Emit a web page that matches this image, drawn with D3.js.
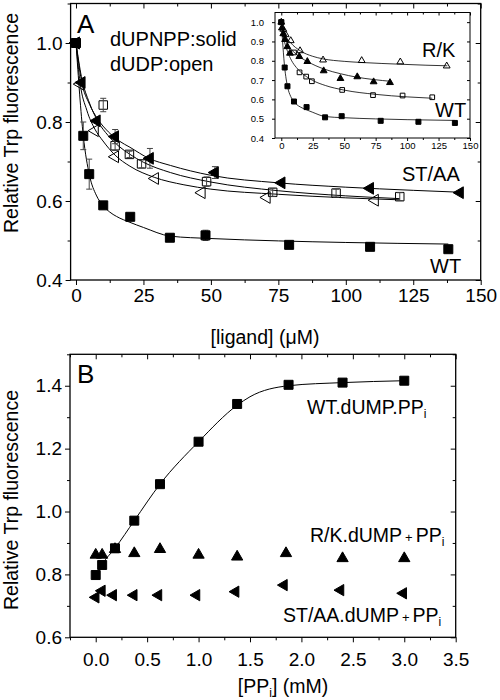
<!DOCTYPE html>
<html><head><meta charset="utf-8">
<script src="https://cdn.jsdelivr.net/npm/d3@7"></script>
<style>
body{margin:0;background:#fff;}
svg{display:block;font-family:"Liberation Sans",Arial,Helvetica,sans-serif;}
</style></head><body>
<svg id="c" width="500" height="700"></svg>
<script>
// ---------------- Panel A (main) data ----------------
const wtSolidX = [0, 2.7, 4.9, 10.1, 20.1, 34.8, 48, 79, 109, 138];
const wtSolidY = [1.0, 0.765, 0.668, 0.589, 0.560, 0.507, 0.513, 0.489, 0.484, 0.478];
const wtSolidErr = [0, 0.035, 0.038, 0, 0, 0, 0.013, 0, 0, 0];

const wtOpenX = [0, 10.1, 14.5, 19.8, 24.3, 48.4, 72.9, 96.4, 120];
const wtOpenY = [1.0, 0.843, 0.740, 0.718, 0.694, 0.649, 0.622, 0.620, 0.611];
const wtOpenErr = [0, 0.017, 0.012, 0.008, 0.010, 0.012, 0.010, 0.010, 0.010];

const stSolidX = [0, 2.1, 7.7, 14.5, 27.4, 51.5, 76.2, 109, 142.3];
const stSolidY = [1.0, 0.900, 0.803, 0.763, 0.708, 0.672, 0.646, 0.632, 0.621];
const stSolidErr = [0, 0, 0, 0.018, 0.025, 0.015, 0, 0, 0];

const stOpenX = [0, 1.5, 7.0, 14.5, 29.3, 46.6, 70.7, 110.8];
const stOpenY = [1.0, 0.896, 0.778, 0.712, 0.657, 0.621, 0.609, 0.602];

// fitted curves
const fitWtSolidX = [0, 2.7, 5, 7.5, 10, 12.5, 15, 20, 25, 35, 50, 75, 100, 138];
const fitWtSolidY = [1.0, 0.765, 0.665, 0.615, 0.589, 0.572, 0.561, 0.546, 0.533, 0.511, 0.505, 0.499, 0.495, 0.491];
const fitStSolidX = [0, 2, 5, 8, 12, 16, 20, 27, 35, 50, 75, 100, 125, 143];
const fitStSolidY = [1.0, 0.905, 0.845, 0.808, 0.775, 0.752, 0.736, 0.708, 0.690, 0.665, 0.646, 0.635, 0.627, 0.622];
const fitWtOpenX = [0, 2, 5, 8, 12, 16, 20, 25, 35, 50, 75, 100, 120];
const fitWtOpenY = [1.0, 0.915, 0.848, 0.803, 0.765, 0.738, 0.718, 0.698, 0.672, 0.648, 0.626, 0.613, 0.606];
const fitStOpenX = [0, 1.5, 4, 7, 10, 14.5, 20, 29, 40, 50, 75, 100, 120];
const fitStOpenY = [1.0, 0.900, 0.830, 0.782, 0.752, 0.716, 0.688, 0.660, 0.641, 0.630, 0.617, 0.608, 0.603];

// ---------------- Inset data ----------------
const rkOpenX = [0, 1.6, 3.5, 7.5, 14.9, 33.2, 63.9, 94.6, 131.5];
const rkOpenY = [1.0, 0.963, 0.935, 0.904, 0.852, 0.804, 0.801, 0.794, 0.773];
const rkSolidX = [0.5, 1.6, 3.0, 4.8, 6.9, 14.3, 20.7, 33.7, 47.0, 60.4, 73.4, 86.4];
const rkSolidY = [0.97, 0.94, 0.91, 0.873, 0.839, 0.822, 0.796, 0.748, 0.708, 0.717, 0.691, 0.687];
const fitRkOpenX = [0, 3, 7.5, 15, 25, 33, 50, 64, 80, 95, 115, 132];
const fitRkOpenY = [1.0, 0.935, 0.893, 0.852, 0.823, 0.810, 0.797, 0.791, 0.786, 0.782, 0.777, 0.774];
const fitRkSolidX = [0, 2, 5, 10, 15, 21, 34, 47, 60, 73, 88];
const fitRkSolidY = [1.0, 0.935, 0.885, 0.845, 0.818, 0.795, 0.757, 0.733, 0.715, 0.703, 0.693];

// ---------------- Panel B data ----------------
const wtBX = [0, 0.0625, 0.1875, 0.375, 0.625, 1.0, 1.375, 1.875, 2.4, 3.0];
const wtBY = [0.798, 0.830, 0.883, 0.971, 1.087, 1.222, 1.342, 1.403, 1.410, 1.416];
const rkBX = [0, 0.0625, 0.1875, 0.375, 0.625, 1.0, 1.375, 1.85, 2.4, 3.0];
const rkBY = [0.862, 0.862, 0.880, 0.867, 0.880, 0.862, 0.856, 0.867, 0.851, 0.851];
const stBX = [0, 0.06, 0.17, 0.37, 0.61, 0.98, 1.36, 1.83, 2.38, 2.99];
const stBY = [0.727, 0.748, 0.734, 0.734, 0.734, 0.734, 0.745, 0.766, 0.750, 0.740];
const fitBX = [0.04, 0.0625, 0.1875, 0.375, 0.625, 1.0, 1.375, 1.5, 1.875, 2.4, 3.0];
const fitBY = [0.815, 0.830, 0.883, 0.971, 1.087, 1.222, 1.338, 1.365, 1.400, 1.410, 1.416];

// ---------------- tick values ----------------
const xTicksA = [0, 25, 50, 75, 100, 125, 150];
const xMinorA = [12.5, 37.5, 62.5, 87.5, 112.5, 137.5];
const yTicksA = [0.4, 0.6, 0.8, 1.0];
const yMinorA = [0.5, 0.7, 0.9, 1.1];
const xTicksI = [0, 25, 50, 75, 100, 125, 150];
const xMinorI = [12.5, 37.5, 62.5, 87.5, 112.5, 137.5];
const yTicksI = [0.4, 0.5, 0.6, 0.7, 0.8, 0.9, 1.0];
const xTicksB = [0.0, 0.5, 1.0, 1.5, 2.0, 2.5, 3.0, 3.5];
const xMinorB = [-0.25, 0.25, 0.75, 1.25, 1.75, 2.25, 2.75, 3.25];
const yTicksB = [0.6, 0.8, 1.0, 1.2, 1.4];
const yMinorB = [0.7, 0.9, 1.1, 1.3, 1.5];

const FONT = '"Liberation Sans", Arial, Helvetica, sans-serif';
const svg = d3.select("#c");

const xA = d3.scaleLinear().domain([-2, 150]).range([70.6, 480.7]);
const yA = d3.scaleLinear().domain([0.4, 1.1]).range([280, 3.5]);
const xI = d3.scaleLinear().domain([-5, 150]).range([275, 470]);
const yI = d3.scaleLinear().domain([0.4, 1.05]).range([138, 12.5]);
const xB = d3.scaleLinear().domain([-0.25, 3.5]).range([70, 455.7]);
const yB = d3.scaleLinear().domain([0.6, 1.5]).range([637.3, 354.3]);

function styleAxis(sel, fs) {
  sel.select(".domain").remove();
  sel.selectAll("line").attr("stroke", "#000").attr("stroke-width", 1);
  sel.selectAll("text").attr("font-size", fs).attr("font-family", FONT).attr("fill", "#000");
}

function axes(g, x, y, c) {
  const [x0, x1] = x.range(), [y0, y1] = y.range();
  const fmtX = c.xFmt, fmtY = d3.format(".1f");
  g.append("g").attr("transform", `translate(0,${y0})`)
    .call(d3.axisBottom(x).tickValues(c.xMajor).tickSize(c.tl).tickPadding(c.xPad).tickFormat(fmtX))
    .call(s => styleAxis(s, c.fs));
  if (c.xMinor) g.append("g").attr("transform", `translate(0,${y0})`)
    .call(d3.axisBottom(x).tickValues(c.xMinor).tickSize(c.tm).tickFormat(""))
    .call(s => styleAxis(s, c.fs));
  g.append("g").attr("transform", `translate(0,${y1})`)
    .call(d3.axisTop(x).tickValues(c.xMajor).tickSize(-c.tl).tickFormat(""))
    .call(s => styleAxis(s, c.fs));
  if (c.xMinor) g.append("g").attr("transform", `translate(0,${y1})`)
    .call(d3.axisTop(x).tickValues(c.xMinor).tickSize(-c.tm).tickFormat(""))
    .call(s => styleAxis(s, c.fs));
  g.append("g").attr("transform", `translate(${x0},0)`)
    .call(d3.axisLeft(y).tickValues(c.yMajor).tickSize(c.tl).tickPadding(c.yPad).tickFormat(fmtY))
    .call(s => styleAxis(s, c.fs));
  if (c.yMinor) g.append("g").attr("transform", `translate(${x0},0)`)
    .call(d3.axisLeft(y).tickValues(c.yMinor).tickSize(c.tm).tickFormat(""))
    .call(s => styleAxis(s, c.fs));
  g.append("g").attr("transform", `translate(${x1},0)`)
    .call(d3.axisRight(y).tickValues(c.yMajor).tickSize(-c.tl).tickFormat(""))
    .call(s => styleAxis(s, c.fs));
  if (c.yMinor) g.append("g").attr("transform", `translate(${x1},0)`)
    .call(d3.axisRight(y).tickValues(c.yMinor).tickSize(-c.tm).tickFormat(""))
    .call(s => styleAxis(s, c.fs));
  g.append("rect").attr("x", x0).attr("y", y1).attr("width", x1 - x0).attr("height", y0 - y1)
    .attr("fill", "none").attr("stroke", "#000").attr("stroke-width", c.fw);
}

function curve(g, x, y, xs, ys, w) {
  const pts = xs.map((v, i) => [v, ys[i]]);
  g.append("path").datum(pts)
    .attr("d", d3.line().x(d => x(d[0])).y(d => y(d[1])).curve(d3.curveMonotoneX))
    .attr("fill", "none").attr("stroke", "#000").attr("stroke-width", w || 1);
}

function errs(g, x, y, xs, ys, es) {
  xs.forEach((v, i) => {
    const e = es[i]; if (!e) return;
    const cx = x(v), t = y(ys[i] + e), b = y(ys[i] - e);
    g.append("line").attr("x1", cx).attr("x2", cx).attr("y1", t).attr("y2", b).attr("stroke", "#444").attr("stroke-width", 1);
    [t, b].forEach(yy => g.append("line").attr("x1", cx - 3).attr("x2", cx + 3).attr("y1", yy).attr("y2", yy).attr("stroke", "#444").attr("stroke-width", 1));
  });
}

function marks(g, x, y, xs, ys, type, size, filled, rot) {
  const sym = d3.symbol().type(type).size(size);
  g.selectAll(null).data(xs.map((v, i) => [v, ys[i]])).join("path")
    .attr("d", sym)
    .attr("transform", d => `translate(${x(d[0])},${y(d[1])})` + (rot ? ` rotate(${rot})` : ""))
    .attr("fill", filled ? "#000" : "none").attr("stroke", "#000").attr("stroke-width", 1);
}

function label(x, y, txt, fs, anchor) {
  return svg.append("text").attr("x", x).attr("y", y).attr("font-size", fs)
    .attr("font-family", FONT).attr("text-anchor", anchor || "start").text(txt);
}

// ================= Panel A =================
const gA = svg.append("g");
axes(gA, xA, yA, { xMajor: xTicksA, xMinor: xMinorA, yMajor: yTicksA, yMinor: yMinorA,
  tl: 5, tm: 3, xPad: 4, yPad: 3, fs: 19, fw: 1.3, xFmt: d3.format("d") });

curve(gA, xA, yA, fitWtSolidX, fitWtSolidY);
curve(gA, xA, yA, fitStSolidX, fitStSolidY);
curve(gA, xA, yA, fitWtOpenX, fitWtOpenY);
curve(gA, xA, yA, fitStOpenX, fitStOpenY);

marks(gA, xA, yA, stOpenX, stOpenY, d3.symbolTriangle, 60, false, -90);
marks(gA, xA, yA, wtOpenX, wtOpenY, d3.symbolSquare, 72, false);
errs(gA, xA, yA, wtSolidX, wtSolidY, wtSolidErr);
errs(gA, xA, yA, wtOpenX, wtOpenY, wtOpenErr);
errs(gA, xA, yA, stSolidX, stSolidY, stSolidErr);
marks(gA, xA, yA, stSolidX, stSolidY, d3.symbolTriangle, 60, true, -90);
marks(gA, xA, yA, wtSolidX, wtSolidY, d3.symbolSquare, 81, true);

// -------- inset --------
const gI = svg.append("g");
gI.append("rect").attr("x", xI.range()[0]).attr("y", yI.range()[1])
  .attr("width", xI.range()[1] - xI.range()[0]).attr("height", yI.range()[0] - yI.range()[1]).attr("fill", "#fff");
axes(gI, xI, yI, { xMajor: xTicksI, xMinor: xMinorI, yMajor: yTicksI, yMinor: null,
  tl: 3, tm: 2, xPad: 1, yPad: 8, fs: 9.5, fw: 1, xFmt: d3.format("d") });
curve(gI, xI, yI, fitRkOpenX, fitRkOpenY, 0.8);
curve(gI, xI, yI, fitRkSolidX, fitRkSolidY, 0.8);
curve(gI, xI, yI, fitWtOpenX, fitWtOpenY, 0.8);
curve(gI, xI, yI, fitWtSolidX, fitWtSolidY, 0.8);
marks(gI, xI, yI, rkOpenX, rkOpenY, d3.symbolTriangle, 20, false);
marks(gI, xI, yI, rkSolidX, rkSolidY, d3.symbolTriangle, 20, true);
marks(gI, xI, yI, wtOpenX, wtOpenY, d3.symbolSquare, 22, false);
marks(gI, xI, yI, wtSolidX, wtSolidY, d3.symbolSquare, 25, true);

// labels A
label(77, 33, "A", 26);
label(110, 46, "dUPNPP:solid", 20);
label(110, 71, "dUDP:open", 20);
label(402, 181, "ST/AA", 20);
label(430, 273, "WT", 20);
label(422, 57, "R/K", 20);
label(435, 117, "WT", 20);

const tA = label(265, 344, "[ligand] (", 19.5, "middle");
tA.append("tspan").text("μ");
tA.append("tspan").text("M)");

svg.append("text").attr("transform", "translate(18,123) rotate(-90)")
  .attr("text-anchor", "middle").attr("font-size", 19.5).attr("font-family", FONT)
  .text("Relative Trp fluorescence");

// ================= Panel B =================
const gB = svg.append("g");
axes(gB, xB, yB, { xMajor: xTicksB, xMinor: xMinorB, yMajor: yTicksB, yMinor: yMinorB,
  tl: 5, tm: 3, xPad: 10, yPad: 3, fs: 19, fw: 1.3, xFmt: d3.format(".1f") });

curve(gB, xB, yB, fitBX, fitBY);
marks(gB, xB, yB, rkBX, rkBY, d3.symbolTriangle, 55, true);
marks(gB, xB, yB, stBX, stBY, d3.symbolTriangle, 55, true, -90);
marks(gB, xB, yB, wtBX, wtBY, d3.symbolSquare, 81, true);

label(77, 383, "B", 26);

function ppiLabel(x, y, pre, plus) {
  const t = label(x, y, pre, 19.5);
  if (plus) {
    t.append("tspan").attr("dx", 3).attr("font-size", 13).text("+");
    t.append("tspan").attr("dx", 3).text("PP");
  } else {
    t.append("tspan").text("PP");
  }
  t.append("tspan").attr("font-size", 12).attr("dy", 4).text("i");
  return t;
}
ppiLabel(307, 414, "WT.dUMP.", false);
ppiLabel(310, 542, "R/K.dUMP", true);
ppiLabel(283, 622, "ST/AA.dUMP", true);

const tB = label(283, 693, "[PP", 19.5, "middle");
tB.append("tspan").attr("font-size", 12).attr("dy", 4).text("i");
tB.append("tspan").attr("dy", -4).text("] (mM)");

svg.append("text").attr("transform", "translate(18,500) rotate(-90)")
  .attr("text-anchor", "middle").attr("font-size", 19.5).attr("font-family", FONT)
  .text("Relative Trp fluorescence");
</script>
</body></html>
